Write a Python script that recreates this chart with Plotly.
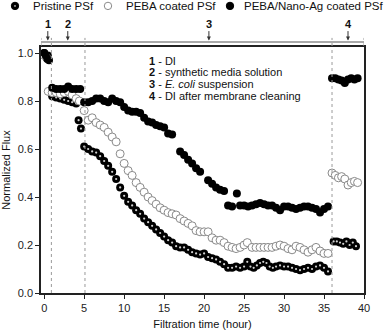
import plotly.graph_objects as go

# Pristine PSf
t_pristine = [0.0, 0.15, 0.3, 0.45, 0.6,
              1.0, 1.5, 2.0, 2.5, 3.0, 3.5, 4.0, 4.3, 4.6,
              5.0, 5.5, 6.0, 6.5, 7.0, 7.5, 8.0, 8.5, 9.0, 9.5, 10.0, 10.5, 11.0, 11.5,
              12.0, 12.5, 13.0, 13.5, 14.0, 14.5, 15.0, 15.5, 16.0, 16.5, 17.0, 17.5,
              18.0, 18.5, 19.0, 19.5, 20.0, 20.5, 21.0, 21.5, 22.0, 22.5, 23.0, 23.5,
              24.0, 24.5, 25.0, 25.4, 25.8, 26.2, 26.6, 27.0, 27.4, 27.8, 28.2, 28.6,
              29.0, 29.5, 30.0, 30.5, 31.0, 31.5, 32.0, 32.5, 33.0, 33.5, 34.0, 34.5,
              35.0, 35.5,
              36.2, 36.6, 37.0, 37.4, 37.8, 38.2, 38.6, 39.0]
flux_pristine = [1.0, 0.99, 0.98, 0.99, 0.97,
                 0.82, 0.815, 0.81, 0.805, 0.8, 0.795, 0.79, 0.72, 0.685,
                 0.61, 0.6, 0.59, 0.585, 0.57, 0.55, 0.53, 0.505, 0.475, 0.44, 0.405, 0.38, 0.365, 0.345,
                 0.33, 0.31, 0.295, 0.28, 0.265, 0.25, 0.235, 0.22, 0.21, 0.195, 0.19, 0.19,
                 0.18, 0.17, 0.165, 0.16, 0.165, 0.15, 0.145, 0.14, 0.13, 0.12, 0.105, 0.105,
                 0.11, 0.105, 0.11, 0.13, 0.11, 0.105, 0.115, 0.125, 0.13, 0.125, 0.11, 0.105,
                 0.11, 0.115, 0.11, 0.11, 0.105, 0.1, 0.095, 0.1, 0.105, 0.1, 0.11, 0.115,
                 0.105, 0.09,
                 0.215, 0.215, 0.21, 0.205, 0.215, 0.2, 0.21, 0.195]

# PEBA coated PSf
t_peba = [0.0, 0.3,
          0.5, 1.0, 1.5, 2.0, 2.5, 3.0, 3.5, 4.0, 4.4,
          5.0, 5.5, 6.0, 6.5, 7.0, 7.5, 8.0, 8.5, 9.0, 9.5, 10.0, 10.5, 11.0, 11.5,
          12.0, 12.5, 13.0, 13.5, 14.0, 14.5, 15.0, 15.5, 16.0, 16.5, 17.0, 17.5,
          18.0, 18.5, 19.0, 19.5, 20.0, 20.5, 21.0, 21.5, 22.0, 22.5, 23.0, 23.5,
          24.0, 24.5, 25.0, 25.4, 26.0, 26.5, 27.0, 27.5, 28.0, 28.5, 29.0, 29.5,
          30.0, 30.5, 31.0, 31.5, 32.0, 32.5, 33.0, 33.5, 34.0, 34.5, 35.0, 35.5,
          36.0, 36.4, 36.8, 37.2, 37.6, 38.0, 38.4, 38.8, 39.2]
flux_peba = [0.99, 0.98,
             0.84, 0.835, 0.835, 0.83, 0.835, 0.84, 0.825, 0.81, 0.8,
             0.76, 0.72, 0.73, 0.71, 0.7, 0.69, 0.67, 0.65, 0.63, 0.58, 0.54, 0.51, 0.49, 0.46,
             0.44, 0.42, 0.4, 0.385, 0.37, 0.355, 0.345, 0.335, 0.33, 0.325, 0.31, 0.3,
             0.29, 0.28, 0.26, 0.255, 0.255, 0.255, 0.23, 0.22, 0.22, 0.21, 0.195, 0.19,
             0.185, 0.19, 0.2, 0.21, 0.19, 0.19, 0.19, 0.19, 0.19, 0.19, 0.195, 0.2,
             0.195, 0.185, 0.18, 0.195, 0.19, 0.18, 0.17, 0.18, 0.19, 0.175, 0.165, 0.165,
             0.5, 0.49, 0.48, 0.485, 0.475, 0.45, 0.46, 0.465, 0.46]

# PEBA/Nano-Ag coated PSf
t_nanoag = [0.0, 0.2, 0.4,
            1.0, 1.5, 2.0, 2.5, 3.0, 3.5, 4.0, 4.5,
            5.0, 5.5, 6.0, 6.5, 7.0, 7.5, 8.0, 8.5, 9.0, 9.5, 10.0, 10.5, 11.0, 11.5,
            12.0, 12.5, 13.0, 13.5, 14.0, 14.5, 15.0, 15.5, 16.0, 17.0, 17.5,
            18.0, 18.5, 19.0, 19.5, 20.5, 21.0, 21.5, 22.0, 22.5, 23.0, 23.5,
            24.1, 24.5, 25.0, 25.5, 26.0, 26.5, 27.0, 27.5, 28.0, 28.5, 29.0, 29.5,
            30.0, 30.5, 31.0, 31.5, 32.0, 32.5, 33.0, 33.5, 34.0, 34.5, 35.0, 35.5,
            36.0, 36.4, 36.8, 37.2, 37.6, 38.0, 38.4, 38.8, 39.2]
flux_nanoag = [1.0, 0.99, 0.975,
               0.855, 0.85, 0.85, 0.85, 0.86, 0.85, 0.85, 0.85,
               0.795, 0.795, 0.8, 0.81, 0.81, 0.8, 0.795, 0.81, 0.8, 0.795, 0.775, 0.76, 0.755, 0.755,
               0.75, 0.73, 0.715, 0.71, 0.7, 0.695, 0.69, 0.665, 0.66, 0.59, 0.575,
               0.555, 0.54, 0.52, 0.505, 0.47, 0.455, 0.44, 0.43, 0.425, 0.365, 0.36,
               0.415, 0.365, 0.365, 0.36, 0.365, 0.37, 0.375, 0.37, 0.365, 0.365, 0.355, 0.345,
               0.36, 0.36, 0.355, 0.35, 0.355, 0.36, 0.36, 0.355, 0.35, 0.335, 0.35, 0.36,
               0.895, 0.895, 0.89, 0.885, 0.875, 0.89, 0.895, 0.89, 0.895]

# stage boundaries (hour) and stage label positions
stage_bounds = [0.9, 5.1, 36.0]
stage_labels = ["1", "2", "3", "4"]
stage_label_x = [0.45, 2.95, 20.6, 38.0]
stage_notes = ["<b>1</b> - DI",
               "<b>2</b> - synthetic media solution",
               "<b>3</b> - <i>E. coli</i> suspension",
               "<b>4</b> - DI after membrane cleaning"]
series_names = ["Pristine PSf", "PEBA coated PSf", "PEBA/Nano-Ag coated PSf"]

FONT = "Liberation Sans, Arial, sans-serif"

fig = go.Figure()

fig.add_trace(go.Scatter(
    x=t_pristine, y=flux_pristine, mode="markers", name=series_names[0],
    marker=dict(symbol="circle", size=8, color="#000000", line=dict(width=0)),
))
# small highlight on the pristine beads
fig.add_trace(go.Scatter(
    x=t_pristine, y=flux_pristine, mode="markers", showlegend=False, hoverinfo="skip",
    marker=dict(symbol="circle", size=2.2, color="#d0d0d0", line=dict(width=0)),
))
fig.add_trace(go.Scatter(
    x=t_peba, y=flux_peba, mode="markers", name=series_names[1],
    marker=dict(symbol="circle", size=8, color="#ffffff", line=dict(width=1, color="#8a8a8a")),
))
fig.add_trace(go.Scatter(
    x=t_nanoag, y=flux_nanoag, mode="markers", name=series_names[2],
    marker=dict(symbol="circle", size=8, color="#000000", line=dict(width=0)),
))

# dotted stage lines inside the plot
for xb in stage_bounds:
    fig.add_shape(type="line", xref="x", yref="y", x0=xb, x1=xb, y0=0, y1=1.025,
                  line=dict(color="#9a9a9a", width=1, dash="dot"))

# bracket line above the plot
fig.add_shape(type="line", xref="x", yref="paper", x0=-0.4, x1=40, y0=1.0203, y1=1.0203,
              line=dict(color="#555555", width=1.2))
for xb in [-0.4] + stage_bounds + [40]:
    fig.add_shape(type="line", xref="x", yref="paper", x0=xb, x1=xb, y0=1.004, y1=1.037,
                  line=dict(color="#9a9a9a", width=1, dash="dot"))

for lab, xl in zip(stage_labels, stage_label_x):
    fig.add_annotation(x=xl, y=1.026, xref="x", yref="paper", text="<b>%s</b>" % lab,
                       showarrow=True, arrowhead=2, arrowsize=0.8, arrowwidth=1,
                       arrowcolor="#333333", ax=0, ay=-17,
                       font=dict(family=FONT, size=11, color="#111111"))

# stage notes, one line each (tight line spacing as in the original)
note_y = [0.968, 0.9196, 0.871, 0.8196]
for txt, yy in zip(stage_notes, note_y):
    fig.add_annotation(x=12.85, y=yy, xref="x", yref="y", text=txt,
                       showarrow=False, xanchor="left", yanchor="middle", align="left",
                       font=dict(family=FONT, size=11, color="#111111"))

# hand-drawn legend row above the plot (paper coords)
leg_y = 1.167
leg_marker_x = [-0.0805, 0.2074, 0.5851]
leg_text_x = [-0.0310, 0.2570, 0.6223]
leg_fill = ["#000000", "#ffffff", "#000000"]
leg_line = ["#000000", "#8a8a8a", "#000000"]
for i in range(3):
    fig.add_shape(type="circle", xref="paper", yref="paper",
                  xsizemode="pixel", ysizemode="pixel",
                  xanchor=leg_marker_x[i], yanchor=leg_y,
                  x0=-3.7, x1=3.7, y0=-3.7, y1=3.7,
                  fillcolor=leg_fill[i], line=dict(color=leg_line[i], width=1))
    fig.add_annotation(x=leg_text_x[i], y=leg_y, xref="paper", yref="paper",
                       text=series_names[i], showarrow=False,
                       xanchor="left", yanchor="middle",
                       font=dict(family=FONT, size=11.5, color="#111111"))
fig.add_shape(type="circle", xref="paper", yref="paper",
              xsizemode="pixel", ysizemode="pixel",
              xanchor=leg_marker_x[0], yanchor=leg_y,
              x0=-0.9, x1=0.9, y0=-0.9, y1=0.9,
              fillcolor="#bbbbbb", line=dict(width=0))

axis_common = dict(showline=True, linecolor="#222222", linewidth=1.5, mirror=True,
                   showgrid=False, zeroline=False, ticks="outside", ticklen=4,
                   tickwidth=1, tickcolor="#222222",
                   tickfont=dict(family=FONT, size=11, color="#222222"))

fig.update_layout(
    width=387, height=332,
    margin=dict(l=41, r=23, t=47, b=39, autoexpand=False),
    showlegend=False,
    paper_bgcolor="#ffffff", plot_bgcolor="#ffffff",
    font=dict(family=FONT, size=11, color="#111111"),
    xaxis=dict(range=[-0.4, 40], tickvals=[0, 5, 10, 15, 20, 25, 30, 35, 40],
               title=dict(text="Filtration time (hour)", standoff=7,
                          font=dict(family=FONT, size=11)),
               **axis_common),
    yaxis=dict(range=[0, 1.025], tickvals=[0, 0.2, 0.4, 0.6, 0.8, 1.0],
               tickformat=".1f",
               title=dict(text="Normalized Flux", standoff=6,
                          font=dict(family=FONT, size=11)),
               **axis_common),
)

# the page body has a default 8px margin; drop it so the figure sits at the window corner
fig.write_html("out.html", config={"displayModeBar": False},
               post_script="document.body.style.margin='0';")
